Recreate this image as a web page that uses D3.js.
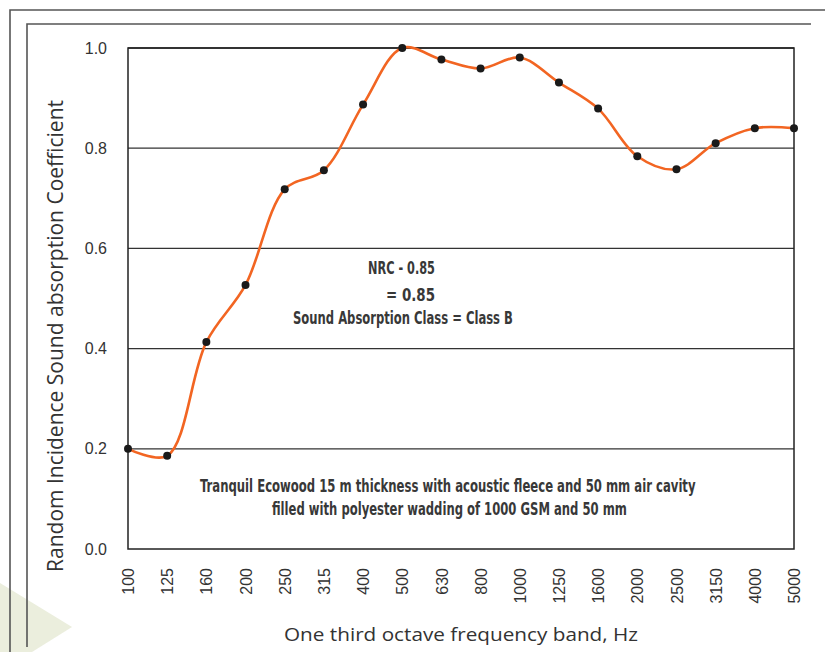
<!DOCTYPE html>
<html>
<head>
<meta charset="utf-8">
<script src="https://cdn.jsdelivr.net/npm/d3@7"></script>
<style>
  body { margin: 0; background: #fff; }
  svg { display: block; }
</style>
</head>
<body>
<svg id="chart" width="825" height="652"></svg>
<script>
// frequency bands (Hz) and measured absorption coefficients
var bands = ["100", "125", "160", "200", "250", "315", "400", "500", "630", "800",
             "1000", "1250", "1600", "2000", "2500", "3150", "4000", "5000"];
var alpha = [0.200, 0.186, 0.413, 0.527, 0.718, 0.756, 0.887, 1.000, 0.977, 0.959,
             0.981, 0.931, 0.879, 0.784, 0.758, 0.810, 0.840, 0.840];
var yTicks = [0, 0.2, 0.4, 0.6, 0.8, 1.0];

var notes = ["NRC - 0.85", "= 0.85", "Sound Absorption Class = Class B"];
var caption = ["Tranquil Ecowood 15 m thickness with acoustic fleece and 50 mm air cavity",
               "filled with polyester wadding of 1000 GSM and 50 mm"];

var svg = d3.select("#chart");
var margin = {left: 128, top: 48, right: 31, bottom: 103};
var W = 825, H = 652;
var pw = W - margin.left - margin.right, ph = H - margin.top - margin.bottom;

///////////////////////////////////////////////////////////////////////////////
// page decoration

svg.append("polygon")
  .attr("points", "0,583 72,627 32,652 0,652")
  .attr("fill", "#ebeedd");

var frame = svg.append("g").attr("stroke", "#555").attr("fill", "none").attr("stroke-width", 1.6);
frame.append("path").attr("d", "M10,652 V10 H825");
frame.append("path").attr("d", "M27,647 V24 H811");

///////////////////////////////////////////////////////////////////////////////
// scales + axes

var x = d3.scalePoint().domain(bands).range([0, pw]);
var y = d3.scaleLinear().domain([0, 1]).range([ph, 0]);

var g = svg.append("g").attr("transform", "translate(" + margin.left + "," + margin.top + ")");

// gridlines
g.append("g").selectAll("line")
  .data(yTicks.filter(function (d) { return d > 0; }))
  .enter().append("line")
  .attr("x1", 0).attr("x2", pw)
  .attr("y1", function (d) { return y(d); })
  .attr("y2", function (d) { return y(d); })
  .attr("stroke", "#333").attr("stroke-width", 1.3);

g.append("rect")
  .attr("width", pw).attr("height", ph)
  .attr("fill", "none").attr("stroke", "#222").attr("stroke-width", 1.5);

var yAxis = g.append("g")
  .call(d3.axisLeft(y).tickValues(yTicks).tickSize(0).tickPadding(21).tickFormat(d3.format(".1f")));
yAxis.select(".domain").remove();
yAxis.selectAll("text")
  .attr("font-family", "'Liberation Sans', Arial, sans-serif")
  .attr("font-size", 16).attr("fill", "#333");

var xAxis = g.append("g")
  .attr("transform", "translate(0," + ph + ")")
  .call(d3.axisBottom(x).tickSize(0).tickPadding(0));
xAxis.select(".domain").remove();
xAxis.selectAll("text")
  .attr("transform", "rotate(-90)")
  .attr("x", -19).attr("y", 0).attr("dy", "0.35em")
  .attr("text-anchor", "end")
  .attr("font-family", "'Liberation Sans', Arial, sans-serif")
  .attr("font-size", 16).attr("fill", "#333");

// axis titles
svg.append("text")
  .attr("transform", "translate(63,336) rotate(-90)")
  .attr("text-anchor", "middle")
  .attr("font-family", "'Open Sans', sans-serif")
  .attr("font-size", 21).attr("fill", "#333")
  .attr("textLength", 472).attr("lengthAdjust", "spacingAndGlyphs")
  .text("Random Incidence Sound absorption Coefficient");

svg.append("text")
  .attr("x", 461).attr("y", 641)
  .attr("text-anchor", "middle")
  .attr("font-family", "'Open Sans', sans-serif")
  .attr("font-size", 18).attr("fill", "#333")
  .attr("textLength", 354).attr("lengthAdjust", "spacingAndGlyphs")
  .text("One third octave frequency band, Hz");

///////////////////////////////////////////////////////////////////////////////
// series

var pts = bands.map(function (b, i) { return [x(b), y(alpha[i])]; });

g.append("path")
  .attr("d", d3.line().curve(d3.curveCatmullRom.alpha(0.5))(pts))
  .attr("fill", "none").attr("stroke", "#f26522").attr("stroke-width", 2.6);

g.append("g").selectAll("circle")
  .data(pts).enter().append("circle")
  .attr("cx", function (d) { return d[0]; })
  .attr("cy", function (d) { return d[1]; })
  .attr("r", 4).attr("fill", "#1a1a1a");

///////////////////////////////////////////////////////////////////////////////
// annotations -- condensed bold look: squeeze each line horizontally to its width

var bold = "'Liberation Sans Narrow', 'DejaVu Sans Condensed', 'Liberation Sans', sans-serif";

var squeezed = function (lines, spec) {
  svg.append("g").selectAll("text")
    .data(lines).enter().append("text")
    .attr("font-family", bold).attr("font-weight", "bold")
    .attr("font-size", 17.5).attr("fill", "#383838")
    .text(function (d) { return d; })
    .attr("transform", function (d, i) {
      var natural = this.getComputedTextLength();
      var sx = spec[i].w / natural;
      return "translate(" + spec[i].x + "," + spec[i].y + ") scale(" + sx + ",1)";
    });
};

squeezed(notes, [
  {x: 368, y: 274, w: 67},
  {x: 386, y: 301, w: 49},
  {x: 293, y: 324, w: 220}
]);

squeezed(caption, [
  {x: 200, y: 492, w: 496},
  {x: 272, y: 515, w: 355}
]);
</script>
</body>
</html>
